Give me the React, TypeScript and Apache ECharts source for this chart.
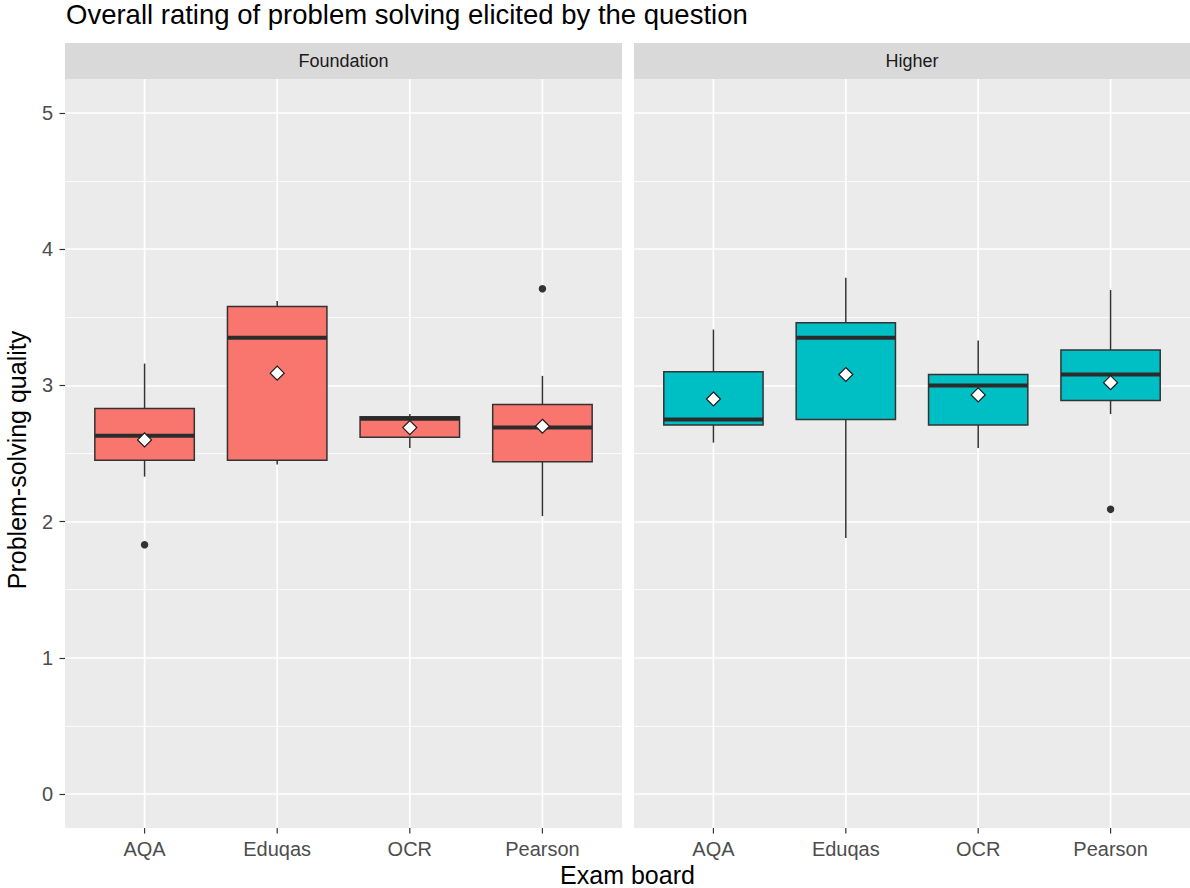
import React, { useEffect, useRef } from "react";
import * as echarts from "echarts";

const boards = ["AQA", "Eduqas", "OCR", "Pearson"];
const panelNames = ["Foundation", "Higher"];
// [min whisker, Q1, median, Q3, max whisker]
const foundationBox = [
  [2.33, 2.45, 2.63, 2.83, 3.16],
  [2.42, 2.45, 3.35, 3.58, 3.62],
  [2.54, 2.62, 2.755, 2.77, 2.79],
  [2.04, 2.44, 2.69, 2.86, 3.07],
];
const higherBox = [
  [2.58, 2.71, 2.75, 3.1, 3.41],
  [1.88, 2.75, 3.35, 3.46, 3.79],
  [2.54, 2.71, 3.0, 3.08, 3.33],
  [2.79, 2.89, 3.08, 3.26, 3.7],
];
const foundationMeans = [2.6, 3.09, 2.69, 2.7];
const higherMeans = [2.9, 3.08, 2.93, 3.02];
// [board index, value]
const foundationOutliers = [
  [0, 1.83],
  [3, 3.71],
];
const higherOutliers = [[3, 2.09]];
const fillColors = ["#F8766D", "#00BFC4"];

const FONT = "'Liberation Sans', Arial, Helvetica, sans-serif";
const PANEL_TOP = 79;
const PANEL_H = 749;
const GRID_TOP = 113;
const GRID_H = 681;
const panels = [
  { left: 65, width: 557 },
  { left: 634, width: 556 },
];

export default function App() {
  const ref = useRef<HTMLDivElement>(null);
  useEffect(() => {
    if (!ref.current) return;
    const chart = echarts.init(ref.current, null, { renderer: "svg" });

    const frameSeries = (gi: number) => ({
      type: "custom",
      xAxisIndex: gi,
      yAxisIndex: gi,
      clip: false,
      silent: true,
      z: 1,
      data: boards.map((_, i) => [i + 1]),
      renderItem: (params: any, api: any) => {
        const x = api.value(0);
        const top = api.coord([x, 5.25]);
        const bot = api.coord([x, -0.25]);
        return {
          type: "group",
          children: [
            {
              type: "line",
              shape: { x1: top[0], y1: top[1], x2: bot[0], y2: bot[1] },
              style: { stroke: "#FFFFFF", lineWidth: 1.7 },
            },
            {
              type: "line",
              shape: { x1: bot[0], y1: bot[1], x2: bot[0], y2: bot[1] + 5.5 },
              style: { stroke: "#333333", lineWidth: 1.2 },
            },
            {
              type: "text",
              x: bot[0],
              y: bot[1] + 21,
              style: {
                text: boards[params.dataIndex],
                fill: "#4D4D4D",
                fontSize: 20,
                fontFamily: FONT,
                align: "center",
                verticalAlign: "middle",
              },
            },
          ],
        };
      },
    });

    const boxSeries = (gi: number, rows: number[][]) => ({
      type: "custom",
      xAxisIndex: gi,
      yAxisIndex: gi,
      clip: false,
      z: 3,
      data: rows.map((r, i) => [i + 1, ...r]),
      renderItem: (params: any, api: any) => {
        const x = api.value(0);
        const mn = api.value(1);
        const q1 = api.value(2);
        const md = api.value(3);
        const q3 = api.value(4);
        const mx = api.value(5);
        const pMin = api.coord([x, mn]);
        const pQ1 = api.coord([x, q1]);
        const pMd = api.coord([x, md]);
        const pQ3 = api.coord([x, q3]);
        const pMax = api.coord([x, mx]);
        const l = api.coord([x - 0.375, md])[0];
        const r = api.coord([x + 0.375, md])[0];
        const cx = pMd[0];
        return {
          type: "group",
          children: [
            {
              type: "line",
              shape: { x1: cx, y1: pMax[1], x2: cx, y2: pQ3[1] },
              style: { stroke: "#333333", lineWidth: 1.5 },
            },
            {
              type: "line",
              shape: { x1: cx, y1: pQ1[1], x2: cx, y2: pMin[1] },
              style: { stroke: "#333333", lineWidth: 1.5 },
            },
            {
              type: "rect",
              shape: { x: l, y: pQ3[1], width: r - l, height: pQ1[1] - pQ3[1] },
              style: { fill: fillColors[gi], stroke: "#333333", lineWidth: 1.5 },
            },
            {
              type: "line",
              shape: { x1: l, y1: pMd[1], x2: r, y2: pMd[1] },
              style: { stroke: "#2B2B2B", lineWidth: 4 },
            },
          ],
        };
      },
    });

    const outlierSeries = (gi: number, pts: number[][]) => ({
      type: "scatter",
      xAxisIndex: gi,
      yAxisIndex: gi,
      z: 4,
      symbol: "circle",
      symbolSize: 7.5,
      itemStyle: { color: "#333333", opacity: 1 },
      data: pts.map((p) => [p[0] + 1, p[1]]),
    });

    const meanSeries = (gi: number, means: number[]) => ({
      type: "scatter",
      xAxisIndex: gi,
      yAxisIndex: gi,
      z: 5,
      symbol: "diamond",
      symbolSize: 14,
      itemStyle: { color: "#FFFFFF", borderColor: "#1A1A1A", borderWidth: 1.2, opacity: 1 },
      data: means.map((m, i) => [i + 1, m]),
    });

    const graphics: any[] = [];
    panels.forEach((p, i) => {
      graphics.push({
        type: "rect",
        z: -10,
        silent: true,
        shape: { x: p.left, y: PANEL_TOP, width: p.width, height: PANEL_H },
        style: { fill: "#EBEBEB" },
      });
      graphics.push({
        type: "rect",
        z: -10,
        silent: true,
        shape: { x: p.left, y: 43, width: p.width, height: 36 },
        style: { fill: "#D9D9D9" },
      });
      graphics.push({
        type: "text",
        z: 10,
        silent: true,
        x: p.left + p.width / 2,
        y: 61,
        style: {
          text: panelNames[i],
          fill: "#1A1A1A",
          fontSize: 18,
          fontFamily: FONT,
          align: "center",
          verticalAlign: "middle",
        },
      });
    });
    graphics.push({
      type: "text",
      z: 10,
      x: 66,
      y: 14.5,
      style: {
        text: "Overall rating of problem solving elicited by the question",
        fill: "#000000",
        fontSize: 27.5,
        fontFamily: FONT,
        align: "left",
        verticalAlign: "middle",
      },
    });
    graphics.push({
      type: "text",
      z: 10,
      x: 627.5,
      y: 875,
      style: {
        text: "Exam board",
        fill: "#000000",
        fontSize: 25,
        fontFamily: FONT,
        align: "center",
        verticalAlign: "middle",
      },
    });
    graphics.push({
      type: "text",
      z: 10,
      x: 16.5,
      y: 460,
      rotation: Math.PI / 2,
      style: {
        text: "Problem-solving quality",
        fill: "#000000",
        fontSize: 25,
        fontFamily: FONT,
        align: "center",
        verticalAlign: "middle",
      },
    });

    const option: any = {
      animation: false,
      backgroundColor: "#FFFFFF",
      grid: panels.map((p) => ({
        left: p.left,
        width: p.width,
        top: GRID_TOP,
        height: GRID_H,
        show: false,
      })),
      xAxis: panels.map((_, i) => ({
        type: "value",
        gridIndex: i,
        min: 0.4,
        max: 4.6,
        axisLine: { show: false },
        axisTick: { show: false },
        axisLabel: { show: false },
        splitLine: { show: false },
      })),
      yAxis: panels.map((_, i) => ({
        type: "value",
        gridIndex: i,
        min: 0,
        max: 5,
        interval: 1,
        axisLine: { show: false },
        axisTick: {
          show: i === 0,
          length: 5.5,
          lineStyle: { color: "#333333", width: 1.2 },
        },
        axisLabel: {
          show: i === 0,
          color: "#4D4D4D",
          fontSize: 20,
          fontFamily: FONT,
          margin: 12,
        },
        splitLine: { show: true, lineStyle: { color: "#FFFFFF", width: 1.7 } },
        minorTick: { show: false, splitNumber: 2 },
        minorSplitLine: { show: true, lineStyle: { color: "#FFFFFF", width: 0.8 } },
      })),
      graphic: { elements: graphics },
      series: [
        frameSeries(0),
        frameSeries(1),
        boxSeries(0, foundationBox),
        boxSeries(1, higherBox),
        outlierSeries(0, foundationOutliers),
        outlierSeries(1, higherOutliers),
        meanSeries(0, foundationMeans),
        meanSeries(1, higherMeans),
      ],
    };
    chart.setOption(option);
    return () => chart.dispose();
  }, []);
  return (
    <div
      ref={ref}
      style={{ position: "absolute", left: 0, top: 0, width: 1190, height: 888 }}
    />
  );
}
